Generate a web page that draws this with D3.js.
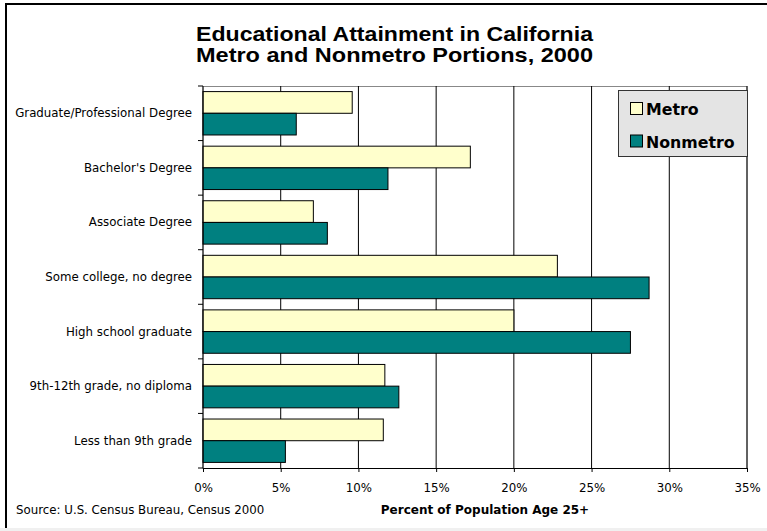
<!DOCTYPE html>
<html>
<head>
<meta charset="utf-8">
<script src="https://cdn.jsdelivr.net/npm/d3@7"></script>
<style>
  html, body { margin: 0; padding: 0; background: #fff; }
  svg { display: block; }
</style>
</head>
<body>
<script>
// ---- Data ----
const categories = [
  "Graduate/Professional Degree",
  "Bachelor's Degree",
  "Associate Degree",
  "Some college, no degree",
  "High school graduate",
  "9th-12th grade, no diploma",
  "Less than 9th grade"
];
const seriesNames = ["Metro", "Nonmetro"];
const metroValues    = [9.6, 17.2, 7.1, 22.8, 20.0, 11.7, 11.6];
const nonmetroValues = [6.0, 11.9, 8.0, 28.7, 27.5, 12.6, 5.3];
const xTickValues = [0, 5, 10, 15, 20, 25, 30, 35];
const titleLines = ["Educational Attainment in California", "Metro and Nonmetro Portions, 2000"];
const xAxisTitle = "Percent of Population Age 25+";
const sourceText = "Source: U.S. Census Bureau, Census 2000";

const colors = { Metro: "#FFFFCC", Nonmetro: "#008080" };

// ---- Layout ----
const W = 767, H = 531;
const plot = { left: 203, right: 747, top: 86, bottom: 468 };

const svg = d3.select("body").append("svg").attr("width", W).attr("height", H);

// background + frame
svg.append("rect").attr("x", 0).attr("y", 0).attr("width", W).attr("height", H).attr("fill", "#fff");
svg.append("rect").attr("x", 0).attr("y", 528).attr("width", W).attr("height", 3).attr("fill", "#f0f0f0");
svg.append("line").attr("x1", 5).attr("x2", W).attr("y1", 4).attr("y2", 4).attr("stroke", "#000").attr("stroke-width", 2);
svg.append("line").attr("x1", 6).attr("x2", 6).attr("y1", 3).attr("y2", 528).attr("stroke", "#000").attr("stroke-width", 2);

// scales
const x = d3.scaleLinear().domain([0, 35]).range([plot.left, plot.right]);
const y = d3.scaleBand().domain(categories).range([plot.top, plot.bottom])
  .paddingInner(0.205).paddingOuter(0.1025);
const ySub = d3.scaleBand().domain(seriesNames).range([0, y.bandwidth()]);

// title
const title = svg.append("g").attr("font-family", "'Liberation Sans', Arial, sans-serif")
  .attr("font-weight", "bold").attr("font-size", 21).attr("fill", "#000");
title.selectAll("text").data(titleLines).join("text")
  .attr("x", 394.5).attr("y", (d, i) => 41 + i * 21)
  .attr("text-anchor", "middle")
  .attr("textLength", 397).attr("lengthAdjust", "spacingAndGlyphs")
  .text(d => d);

// plot border
svg.append("rect").attr("x", plot.left).attr("y", plot.top + 0.5)
  .attr("width", plot.right - plot.left).attr("height", plot.bottom - plot.top)
  .attr("fill", "none").attr("stroke", "#888").attr("stroke-width", 1);

// gridlines
svg.append("g").selectAll("line").data(xTickValues.filter(d => d > 0)).join("line")
  .attr("x1", d => x(d)).attr("x2", d => x(d))
  .attr("y1", plot.top).attr("y2", plot.bottom)
  .attr("stroke", "#000").attr("stroke-width", 1);

// bars
const rows = categories.map((c, i) => ({ cat: c, Metro: metroValues[i], Nonmetro: nonmetroValues[i] }));
const grp = svg.append("g").selectAll("g").data(rows).join("g")
  .attr("transform", d => `translate(0,${y(d.cat)})`);
grp.selectAll("rect").data(d => seriesNames.map(s => ({ s, v: d[s] }))).join("rect")
  .attr("x", x(0)).attr("y", d => ySub(d.s))
  .attr("width", d => x(d.v) - x(0)).attr("height", ySub.bandwidth())
  .attr("fill", d => colors[d.s]).attr("stroke", "#000").attr("stroke-width", 1);

// x axis
const xAxis = d3.axisBottom(x).tickValues(xTickValues).tickFormat(d => d + "%").tickSize(4).tickPadding(12);
const gx = svg.append("g").attr("transform", `translate(0,${plot.bottom})`).call(xAxis);
gx.select(".domain").attr("stroke", "#000");
gx.selectAll(".tick line").attr("stroke", "#000");
gx.selectAll("text").attr("font-family", "'DejaVu Sans', Verdana, sans-serif").attr("font-size", 11.8).attr("fill", "#000");

// y axis
const yBoundaries = d3.range(categories.length + 1).map(i => plot.top + i * y.step());
svg.append("line").attr("x1", plot.left).attr("x2", plot.left).attr("y1", plot.top).attr("y2", plot.bottom)
  .attr("stroke", "#000");
svg.append("g").selectAll("line").data(yBoundaries).join("line")
  .attr("x1", plot.left - 5).attr("x2", plot.left).attr("y1", d => d).attr("y2", d => d)
  .attr("stroke", "#000");
svg.append("g").selectAll("text").data(categories).join("text")
  .attr("x", 192).attr("y", d => y(d) + y.bandwidth() / 2 + 4)
  .attr("text-anchor", "end")
  .attr("font-family", "'DejaVu Sans', Verdana, sans-serif").attr("font-size", 11.8).attr("fill", "#000")
  .text(d => d);

// axis title and source
svg.append("text").attr("x", 485).attr("y", 514).attr("text-anchor", "middle")
  .attr("font-family", "'DejaVu Sans', Verdana, sans-serif").attr("font-weight", "bold").attr("font-size", 12)
  .text(xAxisTitle);
svg.append("text").attr("x", 16).attr("y", 514)
  .attr("font-family", "'DejaVu Sans', Verdana, sans-serif").attr("font-size", 11.8)
  .text(sourceText);

// legend
const lg = svg.append("g");
lg.append("rect").attr("x", 618.5).attr("y", 90.5).attr("width", 129).attr("height", 66)
  .attr("fill", "#e4e4e4").attr("stroke", "#333").attr("stroke-width", 1);
const li = lg.selectAll("g").data(seriesNames).join("g")
  .attr("transform", (d, i) => `translate(0,${i * 32.5})`);
li.append("rect").attr("x", 630.5).attr("y", 102.5).attr("width", 12).attr("height", 12)
  .attr("fill", d => colors[d]).attr("stroke", "#000");
li.append("text").attr("x", 646).attr("y", 115)
  .attr("font-family", "'DejaVu Sans', Verdana, sans-serif").attr("font-weight", "bold").attr("font-size", 15.8)
  .text(d => d);
</script>
</body>
</html>
